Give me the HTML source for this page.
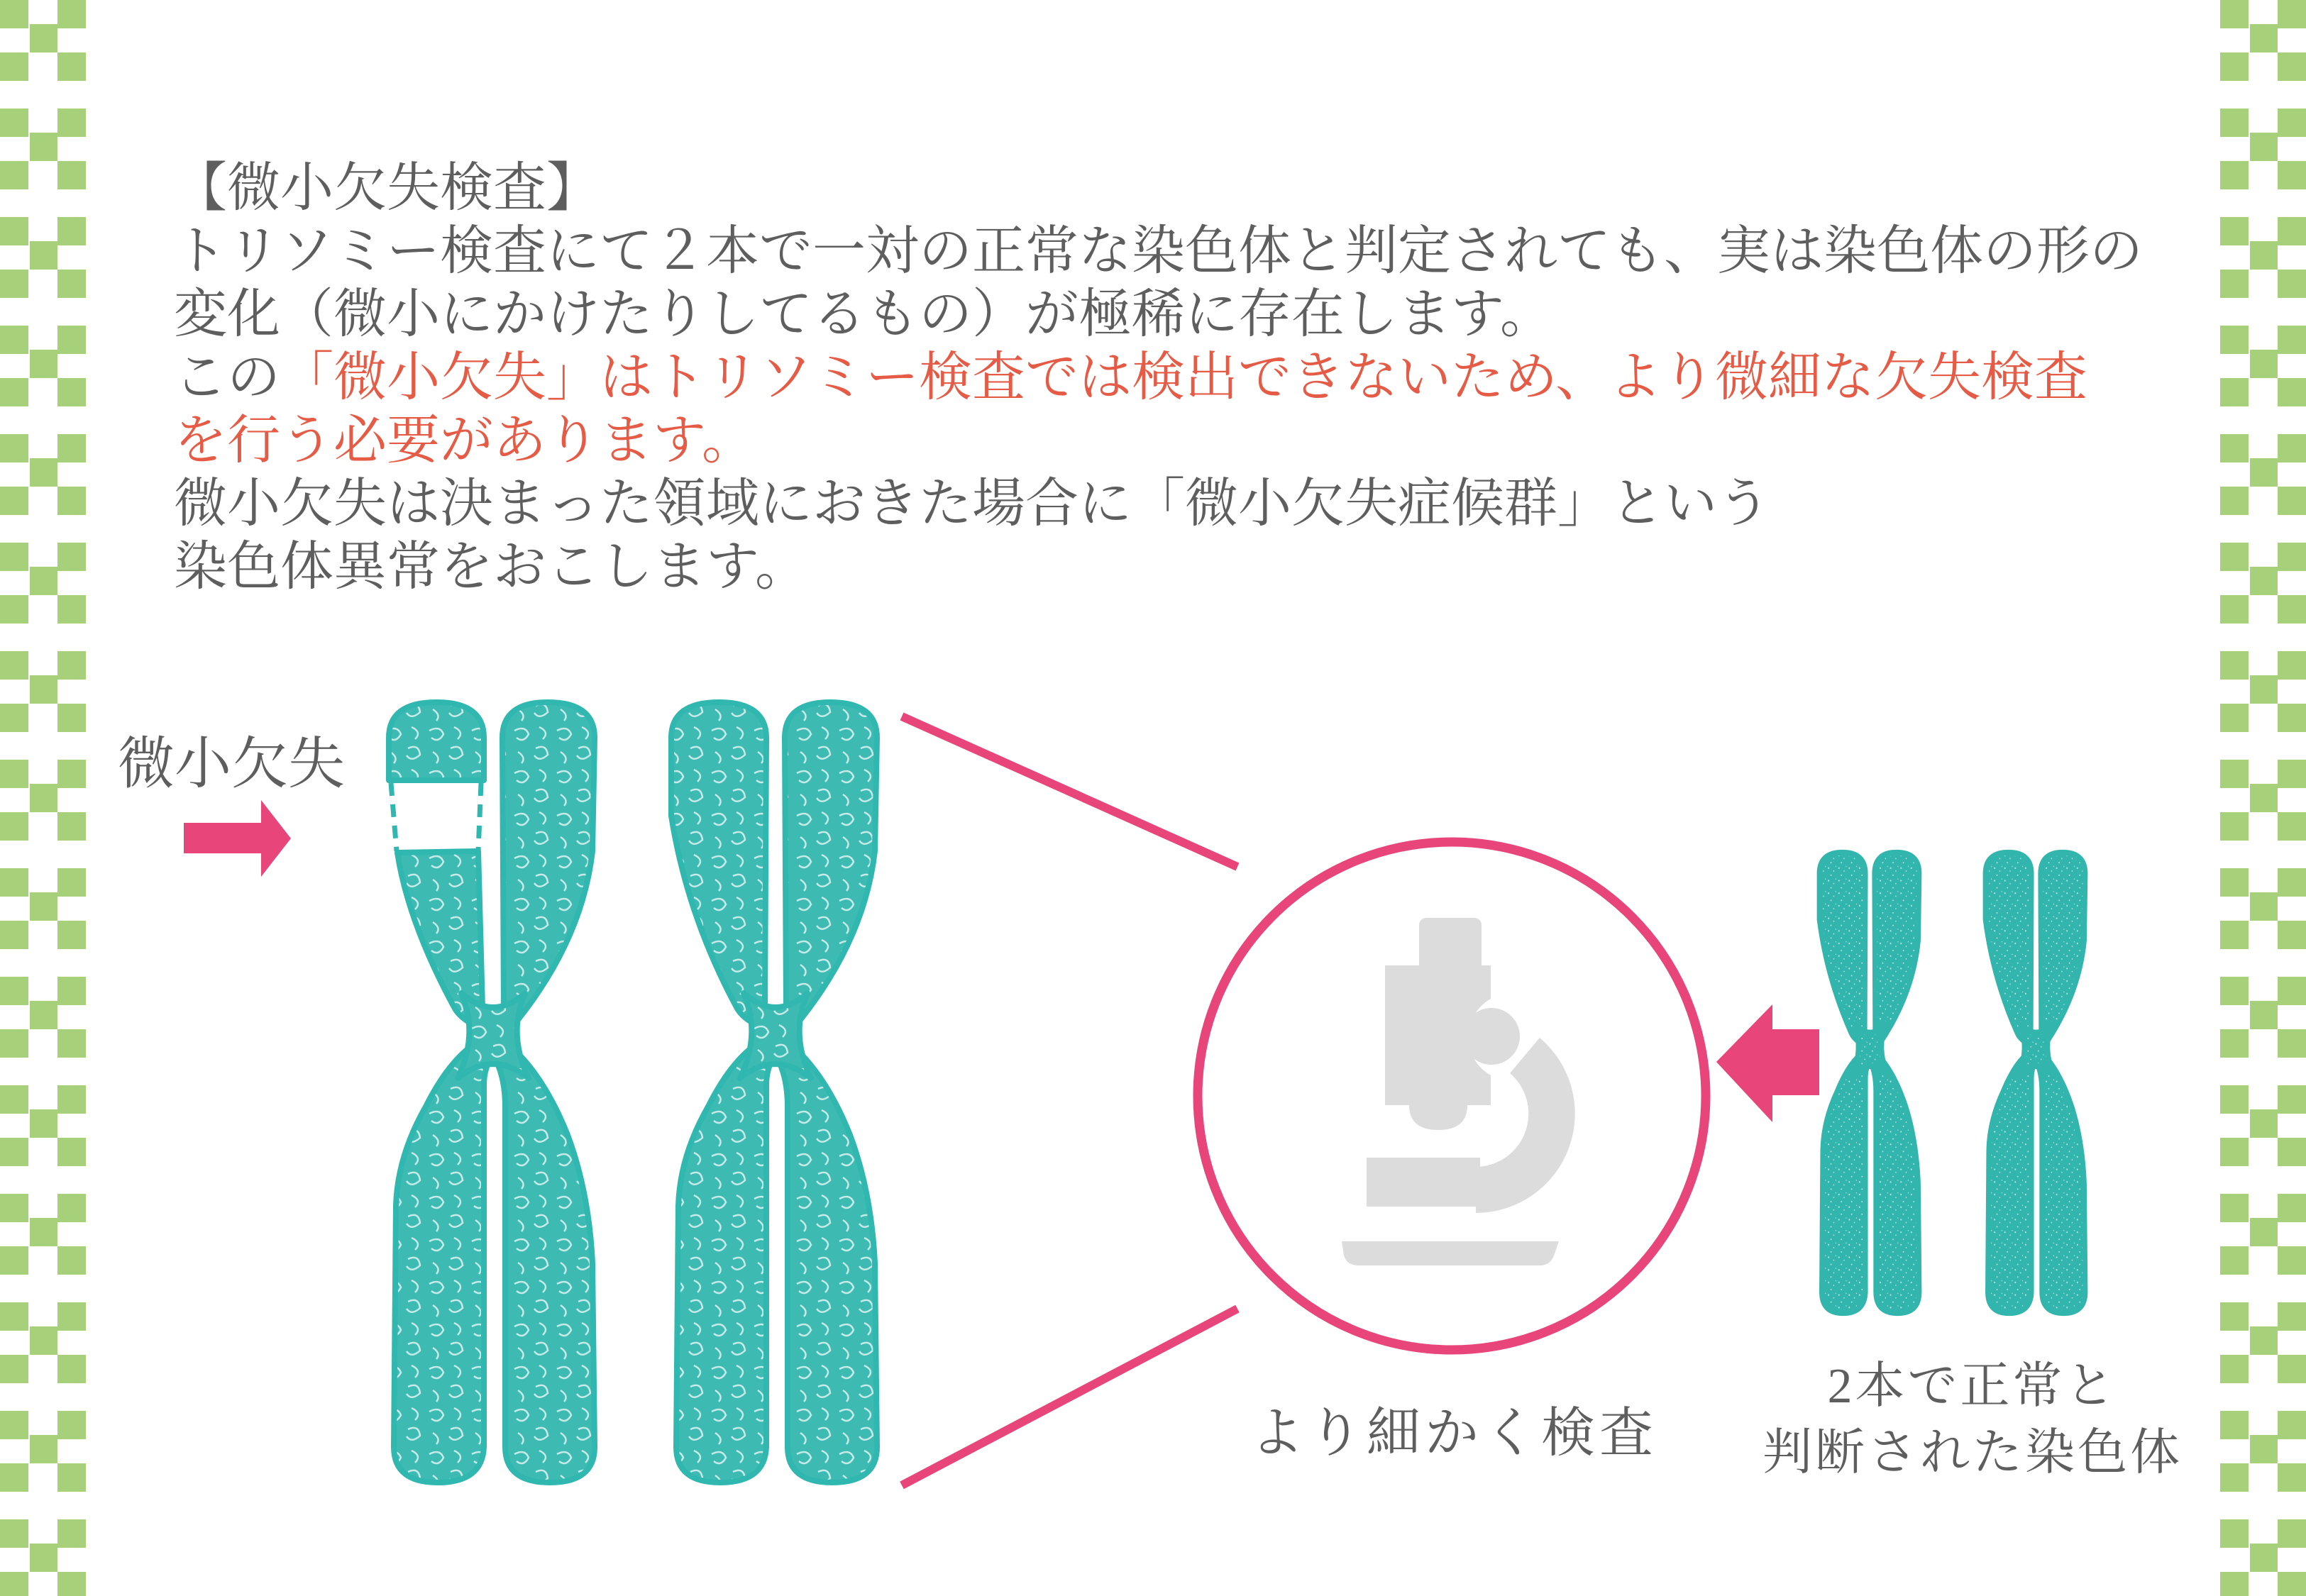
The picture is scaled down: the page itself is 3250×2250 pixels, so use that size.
<!DOCTYPE html>
<html><head><meta charset="utf-8"><style>
html,body{margin:0;padding:0;background:#fff;}
body{width:3250px;height:2250px;position:relative;overflow:hidden;font-family:"Liberation Serif","Noto Serif CJK SC",serif;color:#5e5e5e;}
.t{position:absolute;white-space:nowrap;}
.red{color:#e55b45;}
</style></head><body>
<svg width="3250" height="2250" style="position:absolute;left:0;top:0">
<defs>
<pattern id="chkL" x="0" y="0" width="130" height="153" patternUnits="userSpaceOnUse">
<g fill="#a6d07a"><rect x="0" y="0" width="40" height="40"/><rect x="81" y="0" width="40" height="40"/><rect x="42" y="34" width="39" height="40"/><rect x="0" y="74" width="40" height="40"/><rect x="81" y="74" width="40" height="40"/></g>
</pattern>
<pattern id="chkR" x="3129" y="0" width="130" height="153" patternUnits="userSpaceOnUse">
<g fill="#a6d07a"><rect x="0" y="0" width="40" height="40"/><rect x="81" y="0" width="40" height="40"/><rect x="42" y="34" width="39" height="40"/><rect x="0" y="74" width="40" height="40"/><rect x="81" y="74" width="40" height="40"/></g>
</pattern>
<pattern id="scr" width="60" height="60" patternUnits="userSpaceOnUse">
<rect width="60" height="60" fill="#3dbab2"/>
<g fill="none" stroke="#fff" stroke-width="2.5" opacity="0.7">
<path d="M5 10 Q20 2 25 15 Q18 28 8 20"/><path d="M35 35 Q50 28 52 44 Q40 55 33 45"/><path d="M40 5 Q55 12 45 22"/><path d="M10 40 Q22 48 15 56"/>
</g></pattern>
<pattern id="spk" width="30" height="30" patternUnits="userSpaceOnUse">
<rect width="30" height="30" fill="#32b5ac"/>
<g fill="#bfe9e5"><circle cx="5" cy="7" r="2"/><circle cx="20" cy="14" r="1.6"/><circle cx="12" cy="24" r="1.8"/><circle cx="26" cy="3" r="1.3"/></g>
</pattern>
<g id="armsN">
<path d="M548 1150 L548 1040 Q548 990 615 990 Q682 990 682 1040 L680 1420 Q680 1445 690 1455 Q650 1440 640 1420 Q570 1290 548 1150 Z"/>
<path d="M708 1040 Q708 990 772 990 Q838 990 838 1040 L835 1200 Q820 1330 720 1450 L700 1455 Q710 1440 710 1420 Z"/>
<path d="M690 1460 Q640 1480 600 1560 Q560 1630 558 1700 L555 2040 Q555 2090 617 2090 Q680 2090 682 2040 L682 1530 Q682 1500 700 1480 Z"/>
<path d="M700 1460 Q760 1500 800 1600 Q830 1680 835 1780 L838 2040 Q838 2090 775 2090 Q712 2090 712 2040 L712 1560 Q712 1510 690 1480 Z"/>
<path d="M650 1400 Q695 1440 740 1400 Q715 1458 745 1520 Q695 1480 645 1520 Q675 1458 650 1400 Z"/>
</g>
</defs>
<rect x="0" y="0" width="122" height="2250" fill="url(#chkL)"/>
<rect x="3129" y="0" width="121" height="2250" fill="url(#chkR)"/>

<!-- left chromosome with deletion -->
<g fill="url(#scr)" stroke="#30b8b0" stroke-width="8" stroke-linejoin="round">
<path d="M548 1100 L548 1040 Q548 990 615 990 Q682 990 682 1040 L682 1100 Z"/>
<path d="M560 1202 L674 1200 L680 1420 Q680 1445 690 1455 Q650 1440 640 1420 Q575 1300 560 1202 Z"/>
<path d="M708 1040 Q708 990 772 990 Q838 990 838 1040 L835 1200 Q820 1330 720 1450 L700 1455 Q710 1440 710 1420 Z"/>
<path d="M690 1460 Q640 1480 600 1560 Q560 1630 558 1700 L555 2040 Q555 2090 617 2090 Q680 2090 682 2040 L682 1530 Q682 1500 700 1480 Z"/>
<path d="M700 1460 Q760 1500 800 1600 Q830 1680 835 1780 L838 2040 Q838 2090 775 2090 Q712 2090 712 2040 L712 1560 Q712 1510 690 1480 Z"/>
<path d="M650 1400 Q695 1440 740 1400 Q715 1458 745 1520 Q695 1480 645 1520 Q675 1458 650 1400 Z"/>
</g>
<g stroke="#30b8b0" stroke-width="7" stroke-dasharray="18 12" fill="none">
<line x1="551" y1="1104" x2="559" y2="1200"/><line x1="678" y1="1104" x2="674" y2="1200"/>
</g>
<!-- second left chromosome -->
<g fill="url(#scr)" stroke="#30b8b0" stroke-width="8" stroke-linejoin="round" transform="translate(398,0)">
<use href="#armsN"/>
</g>
<!-- right chromosomes -->
<g fill="url(#spk)" stroke="#32b5ac" stroke-width="14" stroke-linejoin="round" transform="translate(2297.7,617.9) scale(0.486,0.59)"><use href="#armsN"/></g>
<g fill="url(#spk)" stroke="#32b5ac" stroke-width="14" stroke-linejoin="round" transform="translate(2531.7,617.9) scale(0.486,0.59)"><use href="#armsN"/></g>

<!-- pink lines -->
<g stroke="#e8457a" stroke-width="12">
<line x1="1271" y1="1010" x2="1744" y2="1222"/>
<line x1="1271" y1="2094" x2="1744" y2="1845"/>
</g>
<circle cx="2046" cy="1545" r="358" fill="none" stroke="#e8457a" stroke-width="13"/>

<!-- microscope -->
<g fill="#dcdcdc">
<rect x="2000" y="1294" width="88" height="80" rx="10"/>
<path d="M1952 1361 H2101 V1408 A62 62 0 0 0 2101 1516 V1558 H2068 Q2068 1593 2027 1593 Q1986 1593 1986 1558 H1952 Z"/>
<circle cx="2102" cy="1461" r="40"/>
<path d="M2170 1463 A140 140 0 0 1 2080 1710 L2080 1645 A75 75 0 0 0 2128 1513 Z"/>
<rect x="1926" y="1632" width="160" height="69"/>
<path d="M1891 1750 H2197 L2190 1770 Q2185 1784 2170 1784 H1915 Q1898 1784 1894 1770 Z"/>
</g>

<!-- arrows -->
<path d="M259 1160 H368 V1128 L410 1182 L368 1236 V1203 H259 Z" fill="#e8457a"/>
<path d="M2564 1451 H2498 V1416 L2419 1497 L2498 1582 V1544 H2564 Z" fill="#e8457a"/>
</svg>

<div class="t" style="left:245px;top:221px;font-size:75px;line-height:89px;">
【微小欠失検査】<br>
トリソミー検査にて２本で一対の正常な染色体と判定されても、実は染色体の形の<br>
変化（微小にかけたりしてるもの）が極稀に存在します。<br>
この<span class="red">「微小欠失」はトリソミー検査では検出できないため、より微細な欠失検査</span><br>
<span class="red">を行う必要があります。</span><br>
微小欠失は決まった領域におきた場合に「微小欠失症候群」という<br>
染色体異常をおこします。
</div>
<div class="t" style="left:166px;top:1033px;font-size:80px;line-height:90px;">微小欠失</div>
<div class="t" style="left:1762px;top:1976px;font-size:76px;line-height:90px;letter-spacing:6px;">より細かく検査</div>
<div class="t" style="left:2470px;top:1908px;width:620px;text-align:center;font-size:70px;line-height:94px;letter-spacing:4px;">2本で正常と<br>判断された染色体</div>
</body></html>
